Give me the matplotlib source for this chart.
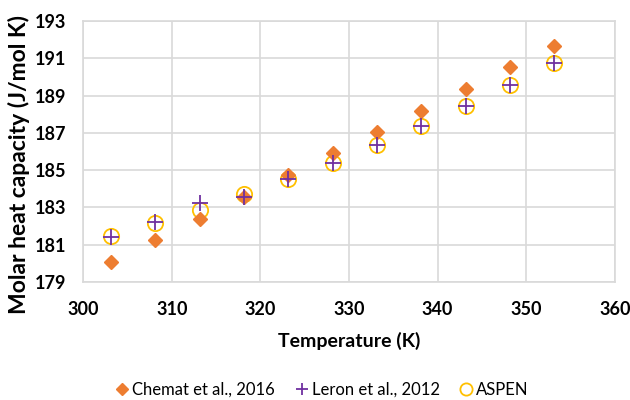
import matplotlib
matplotlib.use("Agg")
import matplotlib.pyplot as plt

# Datos
temperature = [303.15, 308.15, 313.15, 318.15, 323.15, 328.15, 333.15, 338.15, 343.15, 348.15, 353.15]
chemat_2016 = [180.06, 181.25, 182.36, 183.55, 184.75, 185.92, 187.03, 188.19, 189.37, 190.51, 191.67]
leron_2012 = [181.43, 182.20, 183.22, 183.57, 184.52, 185.38, 186.35, 187.38, 188.45, 189.55, 190.76]
aspen = [181.47, 182.18, 182.86, 183.72, 184.52, 185.40, 186.35, 187.37, 188.45, 189.55, 190.76]

x_ticks = [300, 310, 320, 330, 340, 350, 360]
y_ticks = [179, 181, 183, 185, 187, 189, 191, 193]

plt.rcParams['font.family'] = ['Lato', 'DejaVu Sans']

fig = plt.figure(figsize=(6.3, 4.0), dpi=100)
ax = fig.add_axes([0.132, 0.295, 0.844, 0.6525])

ax.plot(temperature, aspen, linestyle='none', marker='o', markersize=11,
        markerfacecolor='none', markeredgecolor='#FFC000', markeredgewidth=1.3,
        label='ASPEN', zorder=3)
ax.plot(temperature, chemat_2016, linestyle='none', marker='D', markersize=7.5,
        color='#ED7D31', label='Chemat et al., 2016', zorder=4)
ax.plot(temperature, leron_2012, linestyle='none', marker='+', markersize=11,
        markeredgewidth=1.3, color='#7030A0', label='Leron et al., 2012', zorder=5)

ax.set_xlim(300, 360)
ax.set_ylim(179, 193)
ax.set_xticks(x_ticks)
ax.set_yticks(y_ticks)
ax.grid(True, color='#D9D9D9', linewidth=1.2)
ax.set_axisbelow(True)
for s in ax.spines.values():
    s.set_color('#D9D9D9')
    s.set_linewidth(1.2)
ax.tick_params(axis='x', length=0, labelsize=13, pad=14)
ax.tick_params(axis='y', length=0, labelsize=13, pad=12)
for lbl in ax.get_xticklabels() + ax.get_yticklabels():
    lbl.set_fontweight('bold')

ax.set_xlabel('Temperature (K)', fontsize=14, fontweight='bold', labelpad=10)
ax.set_ylabel('Molar heat capacity (J/mol K)', fontsize=16.5, fontweight='bold')
ax.yaxis.set_label_coords(-0.1, 0.452)

handles, labels = ax.get_legend_handles_labels()
order = [1, 2, 0]
fig.legend([handles[i] for i in order], [labels[i] for i in order],
           loc='center', bbox_to_anchor=(0.51, 0.025), ncol=3, frameon=False,
           fontsize=12, handletextpad=0.1, columnspacing=1.1, handlelength=1.0,
           markerscale=0.8)

fig.savefig('out.png', dpi=100)
